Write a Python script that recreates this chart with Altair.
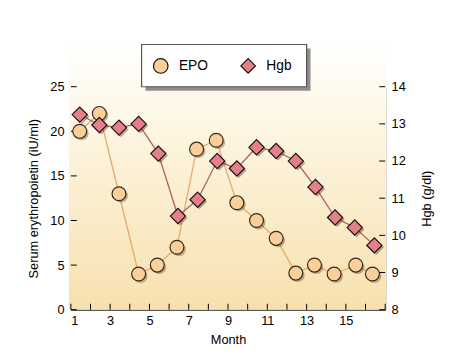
import altair as alt
import pandas as pd

months = [1.45, 2.45, 3.45, 4.45, 5.4, 6.4, 7.4, 8.4, 9.45, 10.45, 11.45, 12.45, 13.4, 14.4, 15.5, 16.35]
epo = [20, 22, 13, 4, 5, 7, 18, 19, 12, 10, 8, 4.1, 5, 4, 5, 4]
hgb_months = [1.45, 2.45, 3.45, 4.45, 5.45, 6.45, 7.45, 8.45, 9.45, 10.45, 11.45, 12.45, 13.45, 14.45, 15.45, 16.45]
hgb = [13.25, 12.97, 12.9, 13.0, 12.2, 10.52, 10.96, 12.0, 11.8, 12.37, 12.27, 12.0, 11.3, 10.48, 10.21, 9.73]
x_ticks = list(range(1, 18))
left_ticks = [0, 5, 10, 15, 20, 25]
right_ticks = list(range(8, 15))

df_epo = pd.DataFrame({"Month": months, "val": epo, "series": "EPO"})
df_hgb = pd.DataFrame({"Month": hgb_months, "val": hgb, "series": "Hgb"})

W, H = 320, 227
FONT = "Liberation Sans"
TK = 6

xs = alt.Scale(domain=[1, 17], nice=False)
xaxis = alt.Axis(title="Month", values=x_ticks,
                 labelExpr="datum.value % 2 == 1 && datum.value < 17 ? datum.value : ''",
                 ticks=False, grid=False, domainColor="black", labelOverlap=False,
                 labelPadding=5, titlePadding=6)

color_scale = alt.Scale(domain=["EPO", "Hgb"], range=["#f9cf9a", "#e3808a"])
shape_scale = alt.Scale(domain=["EPO", "Hgb"], range=["circle", "diamond"])

one = pd.DataFrame({"a": [0]})
bg = alt.Chart(one).mark_rect(
    fill=alt.Gradient(gradient="linear", x1=0, x2=0, y1=0, y2=1,
                      stops=[alt.GradientStop(color="#ffffff", offset=0),
                             alt.GradientStop(color="#fdf5e0", offset=0.35),
                             alt.GradientStop(color="#f7e0ae", offset=1)])
).encode(x=alt.value(-2), x2=alt.value(W + 1), y=alt.value(-45), y2=alt.value(H))

legend_shadow = alt.Chart(one).mark_rect(fill="#6a6a6a", opacity=0.75).encode(
    x=alt.value(76), x2=alt.value(244), y=alt.value(-39), y2=alt.value(4))
legend_box = alt.Chart(one).mark_rect(fill="white", stroke="#555555", strokeWidth=1.2).encode(
    x=alt.value(72), x2=alt.value(240), y=alt.value(-43), y2=alt.value(0))

# inward ticks
bottom_ticks = alt.Chart(pd.DataFrame({"t": x_ticks})).mark_rule(color="black", strokeWidth=1).encode(
    x=alt.X("t:Q", scale=xs, axis=xaxis), y=alt.value(H), y2=alt.value(H - TK))

yl = alt.Scale(domain=[0, 25], nice=False)
yr = alt.Scale(domain=[8, 14], nice=False)
laxis = alt.Axis(title="Serum erythropoietin (iU/ml)", orient="left", values=left_ticks,
                 ticks=False, grid=False, domainColor="black", labelPadding=7, titlePadding=10)
raxis = alt.Axis(title="Hgb (g/dl)", orient="right", values=right_ticks, titleAngle=270,
                 titleBaseline="top",
                 ticks=False, grid=False, domainColor="black", labelPadding=6, titlePadding=16)

left_tick_layer = alt.Chart(pd.DataFrame({"t": left_ticks})).mark_rule(color="black", strokeWidth=1).encode(
    y=alt.Y("t:Q", scale=yl, axis=laxis), x=alt.value(0), x2=alt.value(TK))
right_tick_layer = alt.Chart(pd.DataFrame({"t": right_ticks})).mark_rule(color="black", strokeWidth=1).encode(
    y=alt.Y("t:Q", scale=yr, axis=raxis), x=alt.value(W - TK), x2=alt.value(W))

# EPO layers (left axis)
epo_line = alt.Chart(df_epo).mark_line(color="#e8a868", strokeWidth=1.3).encode(
    x=alt.X("Month:Q", scale=xs, axis=xaxis),
    y=alt.Y("val:Q", scale=yl, axis=laxis))
epo_shadow = alt.Chart(df_epo).mark_point(filled=True, shape="circle", size=200, color="#6b5a40",
                                          opacity=0.45, xOffset=2, yOffset=2).encode(
    x=alt.X("Month:Q", scale=xs, axis=xaxis), y=alt.Y("val:Q", scale=yl, axis=laxis))
epo_pts = alt.Chart(df_epo).mark_point(filled=True, size=200, stroke="#3a2818", strokeWidth=1.2,
                                       opacity=1).encode(
    x=alt.X("Month:Q", scale=xs, axis=xaxis), y=alt.Y("val:Q", scale=yl, axis=laxis),
    color=alt.Color("series:N", scale=color_scale, title=None,
                    legend=alt.Legend(orient="none", legendX=83, legendY=-30, direction="horizontal",
                                      padding=0, symbolSize=220, symbolStrokeColor="#222222",
                                      symbolStrokeWidth=1.2, labelFontSize=14, labelFont=FONT,
                                      columnPadding=30, labelOffset=10, symbolOpacity=1)),
    shape=alt.Shape("series:N", scale=shape_scale, title=None, legend=None))
epo_layer = alt.layer(left_tick_layer, epo_line, epo_shadow, epo_pts)

# Hgb layers (right axis)
hgb_line = alt.Chart(df_hgb).mark_line(color="#b0605c", strokeWidth=1.3).encode(
    x=alt.X("Month:Q", scale=xs, axis=xaxis),
    y=alt.Y("val:Q", scale=yr, axis=raxis))
hgb_shadow = alt.Chart(df_hgb).mark_point(filled=True, shape="diamond", size=240, color="#5a4030",
                                          opacity=0.45, xOffset=2, yOffset=2).encode(
    x=alt.X("Month:Q", scale=xs, axis=xaxis), y=alt.Y("val:Q", scale=yr, axis=raxis))
hgb_pts = alt.Chart(df_hgb).mark_point(filled=True, size=240, stroke="#1a1010", strokeWidth=1.2,
                                       opacity=1).encode(
    x=alt.X("Month:Q", scale=xs, axis=xaxis), y=alt.Y("val:Q", scale=yr, axis=raxis),
    color=alt.Color("series:N", scale=color_scale, title=None),
    shape=alt.Shape("series:N", scale=shape_scale, title=None))
hgb_layer = alt.layer(right_tick_layer, hgb_line, hgb_shadow, hgb_pts)

chart = alt.layer(bg, legend_shadow, legend_box, bottom_ticks, epo_layer, hgb_layer).resolve_scale(
    y="independent").properties(
    width=W, height=H,
    autosize=alt.AutoSizeParams(type="none"),
    padding={"left": 64, "top": 77, "right": 66, "bottom": 44},
).configure_view(stroke=None).configure_axis(
    labelFont=FONT, titleFont=FONT, labelFontSize=13, titleFontSize=13,
    titleFontWeight="normal", labelColor="black", titleColor="black"
)

chart.save("out.html", embed_options={"renderer": "svg", "actions": False})
